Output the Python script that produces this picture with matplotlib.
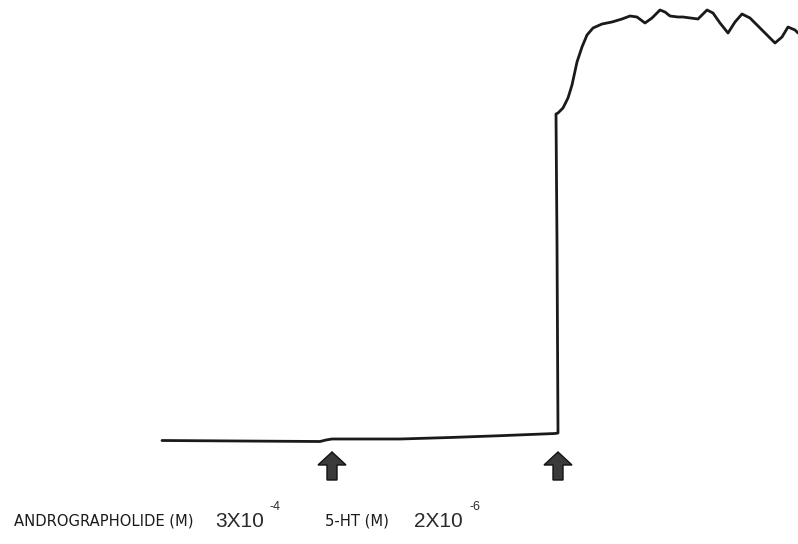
import matplotlib
matplotlib.use("Agg")
import matplotlib.pyplot as plt
from matplotlib.patches import FancyArrow

# isometric tension trace (time in chart units, tension measured upward)
time = [162, 240, 320, 326, 332, 400, 450, 500, 530, 555, 558,
        557, 556, 558, 563, 568, 572, 577, 582, 587, 593, 602, 612, 622,
        630, 637, 645, 652, 660, 665, 670, 678, 683, 698, 707, 713, 720,
        728, 735, 742, 750, 760, 775, 782, 788, 795, 798]
tension = [103.5, 103, 102.5, 104, 105, 105, 106.5, 108.3, 109.5, 110.5, 111,
           300, 430, 431, 436, 446, 459, 482, 497, 509, 516, 520, 522, 525,
           528, 527, 521, 526, 534, 532, 528, 527, 527, 525, 534, 531, 521,
           511, 522, 530, 526, 516, 501, 507, 517, 514, 511]

# drug additions: position along the trace, label, dose mantissa, exponent
dose_time = [332, 558]
drug_names = ["ANDROGRAPHOLIDE (M)", "5-HT (M)"]
name_x = [14, 325]
dose_text = ["3X10", "2X10"]
dose_x = [215, 414]
dose_exp = ["-4", "-6"]

fig = plt.figure(figsize=(7.98, 5.44), dpi=100)
ax = fig.add_axes([0, 0, 1, 1])
ax.set_xlim(0, 798)
ax.set_ylim(0, 544)
ax.axis("off")

ax.plot(time, tension, color="#1a1a1a", lw=2.0, solid_joinstyle="round",
        solid_capstyle="round")

for t in dose_time:
    ax.add_patch(FancyArrow(t, 64, 0, 28, width=10, head_width=28,
                            head_length=13, length_includes_head=True,
                            facecolor="#3a3a3a", edgecolor="#111111", lw=1))

for name, nx in zip(drug_names, name_x):
    ax.text(nx, 19, name, fontsize=11.8, family="DejaVu Sans",
            fontstretch="condensed", color="#1a1a1a",
            ha="left", va="baseline")
for txt, dx, ex in zip(dose_text, dose_x, dose_exp):
    ax.text(dx, 17, txt, fontsize=15, family="Liberation Sans",
            color="#2a2a2a", ha="left", va="baseline")
    ax.text(dx + 55, 34, ex, fontsize=9, family="Liberation Sans",
            color="#2a2a2a", ha="left", va="baseline")

fig.savefig("out.png", dpi=100, facecolor="white")
